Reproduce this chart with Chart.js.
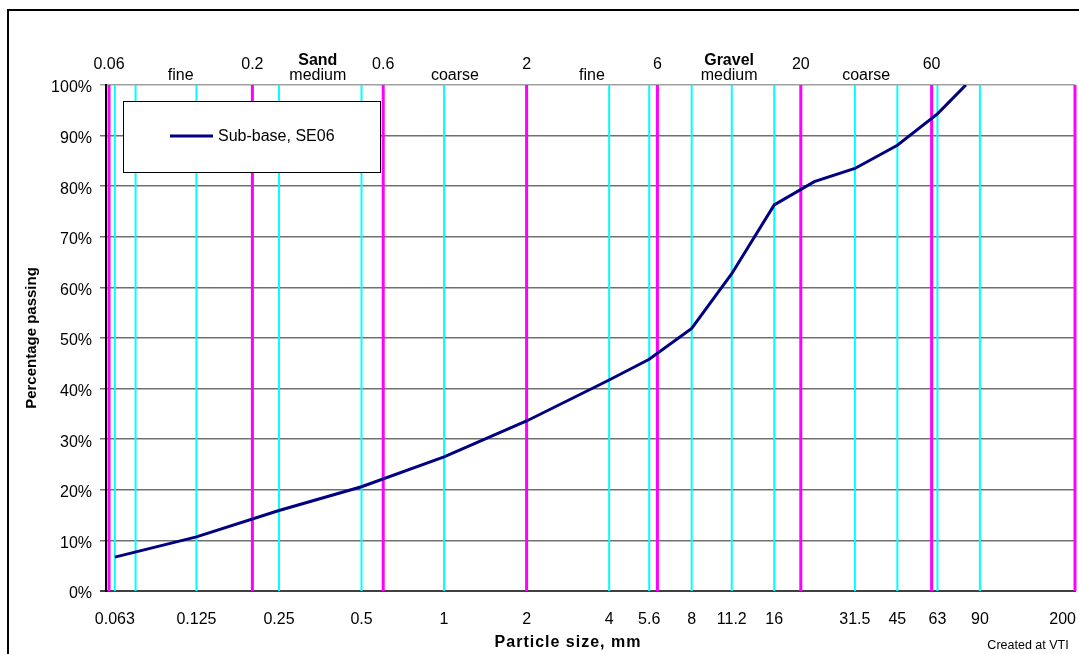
<!DOCTYPE html>
<html>
<head>
<meta charset="utf-8">
<title>Sub-base, SE06</title>
<script src="https://cdn.jsdelivr.net/npm/chart.js@4.4.1/dist/chart.umd.min.js"></script>
<style>
  html, body { margin: 0; padding: 0; background: #fff; }
  #grading { display: block; }
</style>
</head>
<body>
<canvas id="grading" width="1079" height="654"></canvas>
<script>
// sieve analysis
const sieveSizes = [0.063, 0.125, 0.25, 0.5, 1, 2, 4, 5.6, 8, 11.2, 16, 22.4, 31.5, 45, 63, 80];
const passing = [6.7, 10.7, 15.9, 20.6, 26.5, 33.6, 41.7, 45.8, 51.9, 62.7, 76.3, 80.9, 83.5, 88.1, 94.3, 100];

const bottomTicks = [0.063, 0.125, 0.25, 0.5, 1, 2, 4, 5.6, 8, 11.2, 16, 31.5, 45, 63, 90, 200];
const sieveLines = [0.063, 0.075, 0.125, 0.25, 0.5, 1, 4, 5.6, 8, 11.2, 16, 31.5, 45, 63, 90];
const fractionLimits = [0.06, 0.2, 0.6, 2, 6, 20, 60, 200];
const topLabels = ["0.06", "0.2", "0.6", "2", "6", "20", "60"];
const fractionNames = ["fine", "medium", "coarse", "fine", "medium", "coarse"];
const groupNames = ["Sand", "Gravel"];
const groupColumns = [1, 4];
const seriesName = "Sub-base, SE06";

const FONT = "'Liberation Sans', Arial, Helvetica, sans-serif";
Chart.defaults.font.family = FONT;
Chart.defaults.color = "#000";

const gradingPlugin = {
  id: "grading",
  beforeDraw(chart) {
    const ctx = chart.ctx;
    ctx.save();
    ctx.strokeStyle = "#000";
    ctx.lineWidth = 2;
    ctx.strokeRect(8, 10, 1200, 1000);
    ctx.restore();
  },
  beforeDatasetsDraw(chart) {
    const ctx = chart.ctx;
    const x = chart.scales.x;
    const area = chart.chartArea;
    ctx.save();
    ctx.strokeStyle = "#00FFFF";
    ctx.lineWidth = 2;
    sieveLines.forEach((v) => {
      const px = x.getPixelForValue(v);
      ctx.beginPath();
      ctx.moveTo(px, area.top);
      ctx.lineTo(px, area.bottom);
      ctx.stroke();
    });
    ctx.strokeStyle = "#FF00FF";
    ctx.lineWidth = 3;
    fractionLimits.forEach((v) => {
      const px = x.getPixelForValue(v);
      ctx.beginPath();
      ctx.moveTo(px, area.top);
      ctx.lineTo(px, area.bottom);
      ctx.stroke();
    });
    ctx.restore();
  },
  afterDraw(chart) {
    const ctx = chart.ctx;
    const x = chart.scales.x;
    ctx.save();
    ctx.fillStyle = "#000";
    ctx.textAlign = "center";
    ctx.textBaseline = "alphabetic";

    // top axis: fraction limits
    ctx.font = "16px " + FONT;
    topLabels.forEach((t, i) => {
      ctx.fillText(t, x.getPixelForValue(fractionLimits[i]), 69);
    });
    fractionNames.forEach((t, i) => {
      const mid = Math.sqrt(fractionLimits[i] * fractionLimits[i + 1]);
      ctx.fillText(t, x.getPixelForValue(mid), 80);
    });
    ctx.font = "bold 16px " + FONT;
    groupNames.forEach((t, i) => {
      const c = groupColumns[i];
      const mid = Math.sqrt(fractionLimits[c] * fractionLimits[c + 1]);
      ctx.fillText(t, x.getPixelForValue(mid), 65);
    });

    // bottom axis labels
    ctx.font = "16px " + FONT;
    bottomTicks.forEach((v) => {
      const label = String(v);
      const w = ctx.measureText(label).width;
      let px = x.getPixelForValue(v);
      px = Math.min(px, chart.width - 3 - w / 2);
      ctx.fillText(label, px, 624);
    });

    ctx.font = "bold 16px " + FONT;
    ctx.letterSpacing = "1px";
    ctx.fillText("Particle size, mm", 568, 647);
    ctx.letterSpacing = "0px";

    ctx.font = "12.5px " + FONT;
    ctx.fillText("Created at VTI", 1028, 649);

    // legend box
    ctx.fillStyle = "#fff";
    ctx.fillRect(123, 101, 258, 72);
    ctx.strokeStyle = "#000";
    ctx.lineWidth = 1;
    ctx.strokeRect(123.5, 101.5, 257, 71);
    ctx.strokeStyle = "#000080";
    ctx.lineWidth = 3;
    ctx.beginPath();
    ctx.moveTo(170, 136);
    ctx.lineTo(213, 136);
    ctx.stroke();
    ctx.fillStyle = "#000";
    ctx.font = "16px " + FONT;
    ctx.textAlign = "left";
    ctx.textBaseline = "middle";
    ctx.fillText(seriesName, 218, 137);
    ctx.restore();
  }
};

new Chart(document.getElementById("grading"), {
  type: "line",
  data: {
    datasets: [{
      label: seriesName,
      data: sieveSizes.map((s, i) => ({ x: s, y: passing[i] })),
      borderColor: "#000080",
      borderWidth: 3,
      pointRadius: 0,
      tension: 0,
      fill: false
    }]
  },
  options: {
    responsive: false,
    animation: false,
    devicePixelRatio: 1,
    layout: { padding: { top: 85, right: 4, left: 0, bottom: 0 } },
    plugins: {
      legend: { display: false },
      tooltip: { enabled: false }
    },
    scales: {
      x: {
        type: "logarithmic",
        min: 0.0585,
        max: 200,
        grid: { display: false, drawTicks: false },
        ticks: { display: false },
        border: { display: true, color: "#404040", width: 2 },
        afterFit(scale) {
          scale.height = 63;
          scale.paddingLeft = 0;
          scale.paddingRight = 0;
        }
      },
      y: {
        min: 0,
        max: 100,
        ticks: {
          stepSize: 10,
          padding: 8,
          labelOffset: 3,
          font: { size: 16 },
          callback: (v) => v + "%"
        },
        grid: {
          tickLength: 6,
          lineWidth: (c) => (c.index === 0 ? 2 : 1.5),
          color: (c) => (c.index === 0 ? "#404040" : c.index === 10 ? "#a0a0a0" : "#707070")
        },
        border: { color: "#000", width: 2 },
        title: {
          display: true,
          text: "Percentage passing",
          font: { size: 15, weight: "bold" },
          padding: { top: 23, bottom: 0 }
        },
        afterFit(scale) {
          scale.width = 106;
          scale.paddingTop = 0;
          scale.paddingBottom = 0;
        }
      }
    }
  },
  plugins: [gradingPlugin]
});
</script>
</body>
</html>
